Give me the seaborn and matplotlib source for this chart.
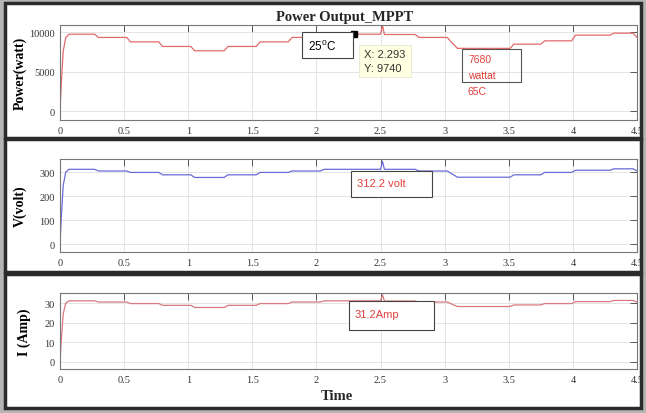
import numpy as np
import pandas as pd
import seaborn as sns
import matplotlib.pyplot as plt
from matplotlib.patches import Rectangle

# step-like MPPT response, corner points
time = [0, 0.01, 0.025, 0.045, 0.07, 0.27, 0.30, 0.52, 0.55, 0.77, 0.80, 1.02, 1.05,
        1.28, 1.31, 1.53, 1.56, 1.78, 1.81, 2.03, 2.06, 2.50, 2.515, 2.53, 2.77, 2.80,
        3.02, 3.06, 3.10, 3.51, 3.54, 3.75, 3.78, 3.99, 4.02, 4.29, 4.32, 4.47, 4.50]
power = [0, 3500, 7600, 9300, 9740, 9740, 9330, 9330, 8770, 8770, 8190, 8190, 7640,
         7640, 8190, 8190, 8770, 8770, 9330, 9330, 9740, 9740, 10850, 9700, 9700, 9330,
         9330, 8600, 7950, 7950, 8480, 8480, 8900, 8900, 9620, 9620, 9870, 9870, 9330]
volt = [0, 110, 245, 300, 312, 312, 305, 305, 299, 299, 289, 289, 278,
        278, 289, 289, 299, 299, 305, 305, 312, 312, 345, 312, 312, 305,
        305, 292, 279, 279, 289, 289, 299, 299, 308, 308, 314, 314, 305]
amp = [0, 11, 24.5, 30, 31.2, 31.2, 30.6, 30.6, 29.8, 29.8, 28.9, 28.9, 27.8,
       27.8, 28.9, 28.9, 29.8, 29.8, 30.6, 30.6, 31.2, 31.2, 34.3, 31.1, 31.1, 30.6,
       30.6, 29.4, 28.3, 28.3, 29.1, 29.1, 29.8, 29.8, 30.8, 30.8, 31.4, 31.4, 30.5]

cursor_x = 2.293
cursor_y = 9740

df = pd.DataFrame({"Time": time, "Power": power, "V": volt, "I": amp})

sns.set_style("white")
plt.rcParams["font.family"] = ["Liberation Serif", "DejaVu Serif"]
plt.rcParams["mathtext.fontset"] = "custom"
plt.rcParams["mathtext.rm"] = "Liberation Sans"

W, H = 646, 414
fig = plt.figure(figsize=(6.46, 4.14), dpi=100, facecolor="#b5b5b5")


def fx(x):
    return x / W


def fy(y):
    return 1 - y / H


def frame(x0, y0, x1, y1, **kw):
    fig.add_artist(Rectangle((fx(x0), fy(y1)), fx(x1) - fx(x0), fy(y0) - fy(y1),
                             transform=fig.transFigure, **kw))


# panel frames
for y0, y1 in [(4, 139), (140, 273), (275, 409)]:
    frame(5, y0, 641, y1, fc="white", ec="#2b2b2b", lw=2.5, zorder=0)

left, right = 60, 637
panels = [
    ("Power", (26, 121), (-1100, 10900), [0, 5000, 10000], "Power(watt)", "#e36a6a", -0.057),
    ("V", (160, 253), (-33, 355), [0, 100, 200, 300], "V(volt)", "#6b6bd8", -0.057),
    ("I", (294, 370), (-3.6, 35.2), [0, 10, 20, 30], "I (Amp)", "#d9787e", -0.051),
]

axes = []
for col, (top, bot), ylim, yt, lab, c, lx in panels:
    ax = fig.add_axes([fx(left), fy(bot), fx(right) - fx(left), fy(top) - fy(bot)])
    sns.lineplot(data=df, x="Time", y=col, ax=ax, color=c, linewidth=0.9)
    ax.set_xlim(0, 4.5)
    ax.set_ylim(*ylim)
    ax.set_xticks(np.arange(0, 4.51, 0.5))
    ax.set_xticklabels(["0", "0.5", "1", "1.5", "2", "2.5", "3", "3.5", "4", "4.5"])
    ax.set_yticks(yt)
    ax.grid(True, color="#e4e4e4", linewidth=0.7)
    ax.tick_params(direction="in", length=5, width=0.7, top=True, right=True,
                   labelsize=7.5, colors="#555555", labelcolor="#333333", pad=4)
    for s in ax.spines.values():
        s.set_color("#777777")
        s.set_linewidth(0.8)
    ax.set_xlabel("")
    ax.set_ylabel(lab, fontsize=10, fontweight="bold", color="black")
    ax.yaxis.set_label_coords(lx, 0.5)
    axes.append(ax)

axes[2].set_xlabel("Time", fontsize=10.5, fontweight="bold")
axes[2].xaxis.set_label_coords(0.48, -0.26)

fig.text(fx(345), fy(18), "Power Output_MPPT", ha="center", va="center",
         fontsize=10.5, fontweight="bold")

# data cursor
axes[0].plot([cursor_x], [cursor_y], marker="s", color="black", ms=5, zorder=5)
frame(359, 46, 411, 78, fc="#ffffe1", ec="#e8e8cc", lw=0.6, zorder=3)
fig.text(fx(364), fy(62), "X: %.3f\nY: %d" % (cursor_x, cursor_y), ha="left",
         va="center", fontsize=8, family="Liberation Sans", color="#333333",
         linespacing=1.45, zorder=4)

red = "#e2403c"
sans = "Liberation Sans"

# 25 C box
frame(302, 33, 353, 59, fc="white", ec="#444444", lw=0.8, zorder=3)
fig.text(fx(308), fy(46), r"25$^{0}$C", ha="left", va="center", fontsize=8.5,
         family=sans, color="black", zorder=4)

# 65 C box
frame(462, 50, 521, 83, fc="none", ec="#555555", lw=0.8, zorder=3)
fig.text(fx(468), fy(76), "7680\nwattat\n65C", ha="left", va="center", fontsize=7.5,
         family=sans, color=red, linespacing=1.75, zorder=4)

# volt box
frame(351, 172, 432, 198, fc="white", ec="#444444", lw=0.8, zorder=3)
fig.text(fx(357), fy(184), "312.2 volt", ha="left", va="center", fontsize=8,
         family=sans, color=red, zorder=4)

# amp box
frame(349, 302, 434, 331, fc="white", ec="#444444", lw=0.8, zorder=3)
fig.text(fx(355), fy(315), "31.2Amp", ha="left", va="center", fontsize=8,
         family=sans, color=red, zorder=4)

fig.savefig("out.png", dpi=100, facecolor=fig.get_facecolor())
